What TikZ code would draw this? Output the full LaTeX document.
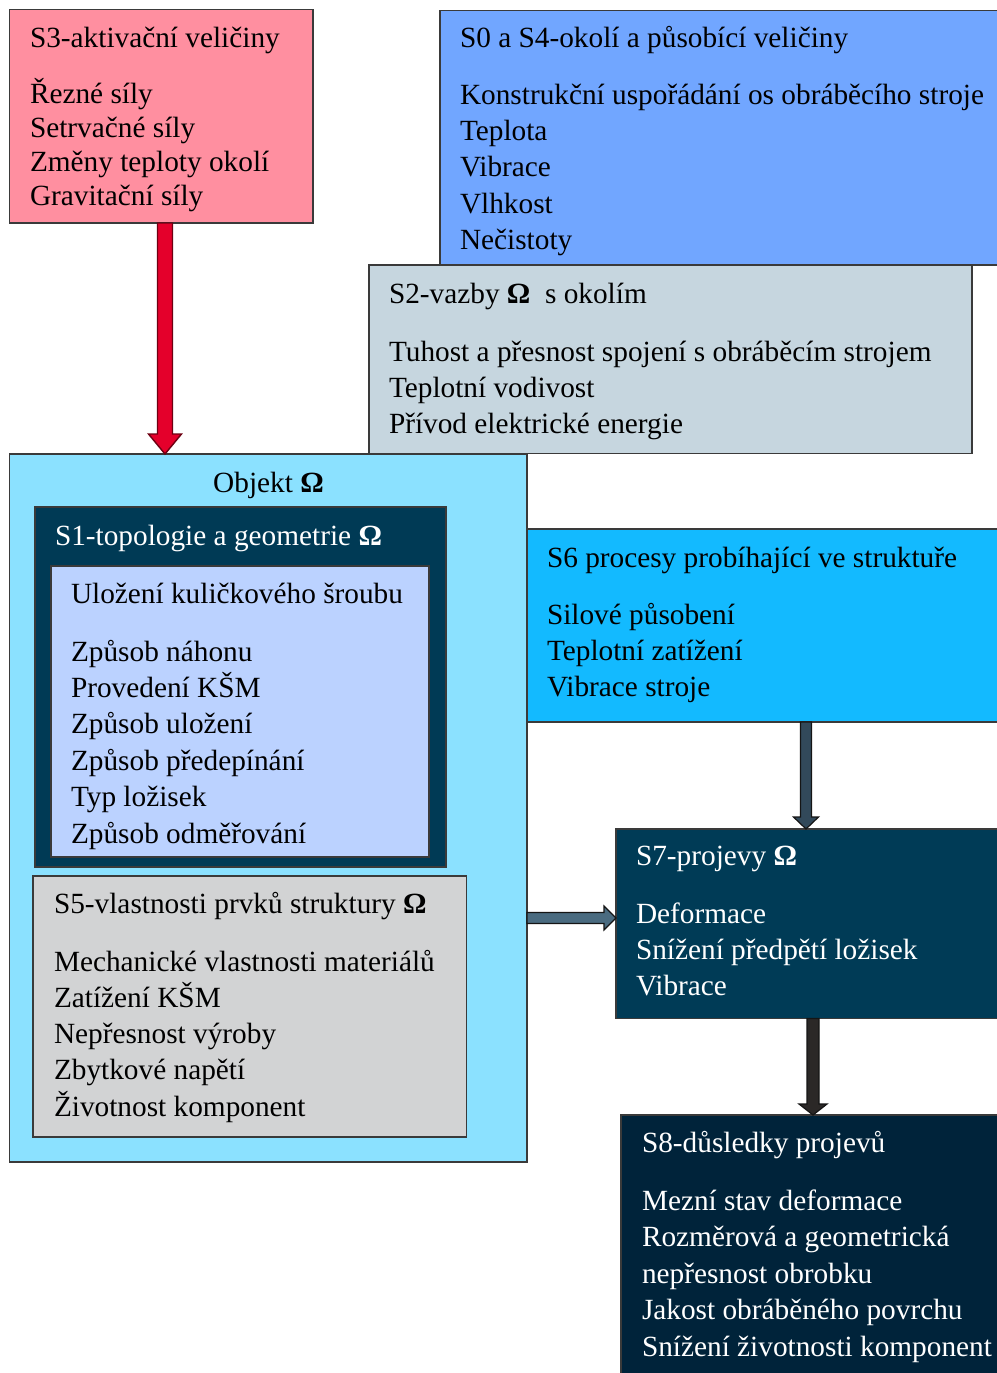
\documentclass[tikz,border=0pt]{standalone}
\usepackage{fontspec}
\setmainfont{Liberation Serif}
\usetikzlibrary{calc}
\definecolor{bordc}{HTML}{3A3A3A}
\definecolor{cS3}{HTML}{FF8FA0}
\definecolor{cS0}{HTML}{71A6FF}
\definecolor{cS2}{HTML}{C6D6DF}
\definecolor{cObj}{HTML}{8BE1FF}
\definecolor{cS1}{HTML}{003A55}
\definecolor{cS1in}{HTML}{BBD2FF}
\definecolor{cS5}{HTML}{D2D3D4}
\definecolor{cS6}{HTML}{13BAFF}
\definecolor{cS7}{HTML}{003B56}
\definecolor{cS8}{HTML}{00233A}
\definecolor{aRed}{HTML}{E4002B}
\definecolor{aRedB}{HTML}{6E0012}
\definecolor{aSlate}{HTML}{32495A}
\definecolor{aSteel}{HTML}{4A6B80}
\definecolor{aDark}{HTML}{2B2827}
\definecolor{aDarkB}{HTML}{151515}
\newcommand\Om{{\bfseries Ω}}
% vertical block arrow: start, end, half shaft, half head, head length, style
\newcommand\BlkDown[6]{%
  \draw[#6] let \p1=(#1), \p2=(#2) in
    (\x1-#3,\y1) -- (\x1-#3,\y2+#5) -- (\x1-#4,\y2+#5) -- (\x1,\y2)
    -- (\x1+#4,\y2+#5) -- (\x1+#3,\y2+#5) -- (\x1+#3,\y1) -- cycle;}
% horizontal block arrow (to the right)
\newcommand\BlkRight[6]{%
  \draw[#6] let \p1=(#1), \p2=(#2) in
    (\x1,\y1+#3) -- (\x2-#5,\y1+#3) -- (\x2-#5,\y1+#4) -- (\x2,\y1)
    -- (\x2-#5,\y1-#4) -- (\x2-#5,\y1-#3) -- (\x1,\y1-#3) -- cycle;}
\newcommand\TxtLines[5]{%
  \foreach \t [count=\i from 0] in {#5}
    \node[txt] (#1\i) at (#2, #3+\i*#4) {\t};}
\begin{document}
\begin{tikzpicture}[x=1pt,y=-1pt,
  box/.style={draw=bordc, line width=1.2pt, anchor=north west, inner sep=0pt, outer sep=0pt},
  txt/.style={inner sep=0pt, outer sep=0pt, font=\fontsize{29.3}{36}\selectfont, anchor=base west},
  wtxt/.style={txt, text=white}]
\useasboundingbox (0,0) rectangle (996,1373);
\fill[white] (0,0) rectangle (996,1373);

% boxes
\node[box, fill=cS0, minimum width=600pt, minimum height=254.5pt] (s0) at (440,10.5) {};
\node[box, fill=cS2, minimum width=603pt, minimum height=188.5pt] (s2) at (369,265) {};
\node[box, fill=cS3, minimum width=303.5pt, minimum height=213.5pt] (s3) at (9.5,9.5) {};
\node[box, fill=cObj, minimum width=517.5pt, minimum height=708pt] (o) at (9.5,454) {};
\node[box, fill=cS1, minimum width=411pt, minimum height=360pt] (s1) at (35,507) {};
\node[box, fill=cS1in, minimum width=378pt, minimum height=291pt] (s1in) at (51,566) {};
\node[box, fill=cS5, minimum width=433.5pt, minimum height=261pt] (s5) at (33,876) {};
\node[box, fill=cS6, minimum width=500pt, minimum height=193pt] (s6) at (527,529) {};
\node[box, fill=cS7, minimum width=400pt, minimum height=189.5pt] (s7) at (616,829) {};
\node[box, fill=cS8, minimum width=400pt, minimum height=300pt] (s8) at (621,1115) {};

% helper coordinates for arrow positions
\coordinate (xa) at (165,0);
\coordinate (xb) at (806,0);
\coordinate (xc) at (813,0);
\coordinate (ya) at (0,918);

% arrows
\BlkDown{s3.south -| xa}{o.north}{7.5pt}{16.5pt}{20pt}{fill=aRed, draw=aRedB, line width=1.4pt}
\BlkDown{s6.south -| xb}{s7.north}{5.5pt}{12.5pt}{12pt}{fill=aSlate, draw=aDarkB, line width=1.2pt}
\BlkRight{o.east |- ya}{s7.west}{5.5pt}{12pt}{12pt}{fill=aSteel, draw=aDarkB, line width=1.2pt}
\BlkDown{s7.south -| xc}{s8.north}{6pt}{14pt}{11pt}{fill=aDark, draw=aDarkB, line width=1.2pt}

% S3
\node[txt] (s3t) at (30,47) {S3-aktivační veličiny};
\TxtLines{s3i}{30}{103}{34.3}{Řezné síly,Setrvačné síly,Změny teploty okolí,Gravitační síly}
% S0
\node[txt] (s0t) at (460,47) {S0 a S4-okolí a působící veličiny};
\TxtLines{s0i}{460}{104.5}{36.2}{Konstrukční uspořádání os obráběcího stroje,Teplota,Vibrace,Vlhkost,Nečistoty}
% S2
\node[txt] (s2t) at (389,303) {S2-vazby \Om\ \ s okolím};
\TxtLines{s2i}{389}{361}{36.2}{Tuhost a přesnost spojení s obráběcím strojem,Teplotní vodivost,Přívod elektrické energie}
% Objekt
\node[txt, anchor=base] (ot) at (268.5,492) {Objekt \Om};
% S1
\node[wtxt] (s1t) at (55,545) {S1-topologie a geometrie \Om};
\node[txt] (s1h) at (71,603) {Uložení kuličkového šroubu};
\TxtLines{s1i}{71}{661}{36.4}{Způsob náhonu,Provedení KŠM,Způsob uložení,Způsob předepínání,Typ ložisek,Způsob odměřování}
% S5
\node[txt] (s5t) at (54,913) {S5-vlastnosti prvků struktury \Om};
\TxtLines{s5i}{54}{971}{36.3}{Mechanické vlastnosti materiálů,Zatížení KŠM,Nepřesnost výroby,Zbytkové napětí,Životnost komponent}
% S6
\node[txt] (s6t) at (547,567) {S6 procesy probíhající ve struktuře};
\TxtLines{s6i}{547}{624}{36.4}{Silové působení,Teplotní zatížení,Vibrace stroje}
% S7
\node[wtxt] (s7t) at (636,865) {S7-projevy \Om};
\foreach \t [count=\i from 0] in {Deformace,Snížení předpětí ložisek,Vibrace}
  \node[wtxt] (s7i\i) at (636, 923+\i*36.3) {\t};
% S8
\node[wtxt] (s8t) at (642,1152) {S8-důsledky projevů};
\foreach \t [count=\i from 0] in {Mezní stav deformace,Rozměrová a geometrická,nepřesnost obrobku,Jakost obráběného povrchu,Snížení životnosti komponent}
  \node[wtxt] (s8i\i) at (642, 1210+\i*36.5) {\t};
\end{tikzpicture}
\end{document}
